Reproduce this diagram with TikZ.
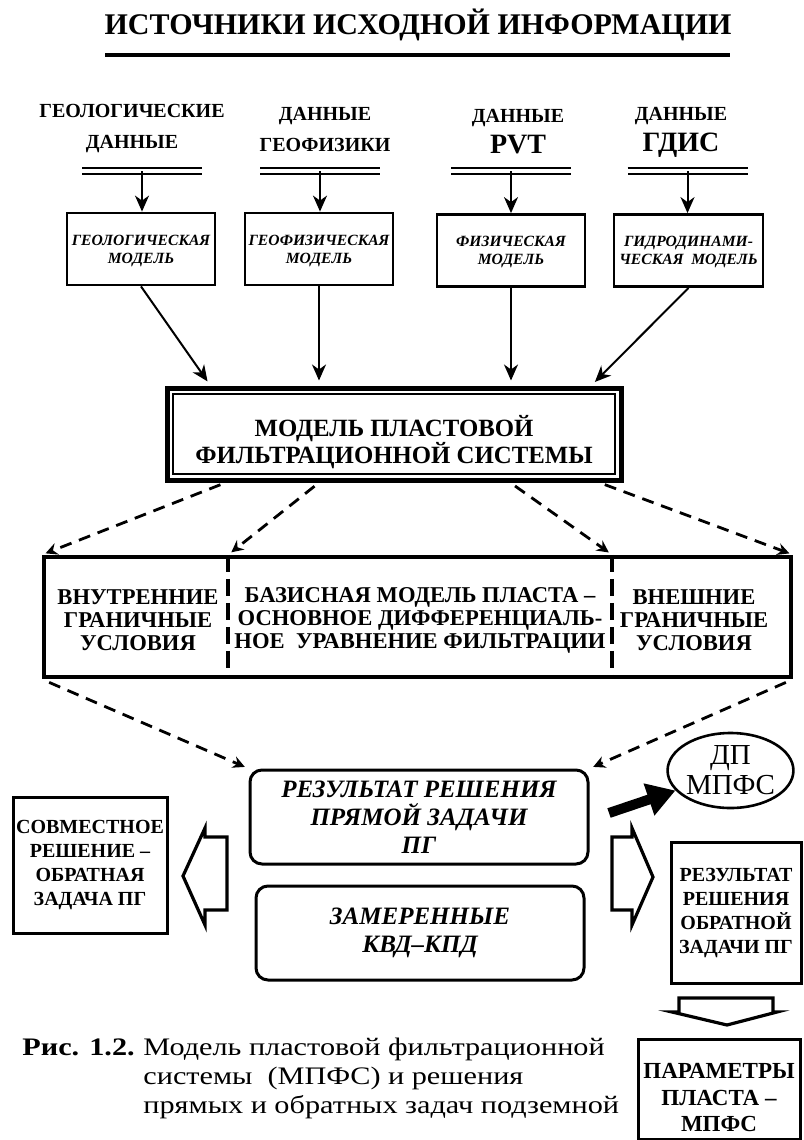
\documentclass[tikz,border=0pt]{standalone}
\usepackage{fontspec}
\setmainfont{Liberation Serif}
\newfontfamily\capfont[FakeStretch=1.2]{Liberation Serif}
\usetikzlibrary{arrows.meta,calc,shapes.geometric}

\tikzset{
  srclabel/.style={font=\bfseries\fontsize{10}{15.5}\selectfont, align=center, inner sep=0pt},
  srcbar/.style={line width=0.8pt, double distance=2.2pt},
  feed/.style={line width=1pt, -{Stealth[length=8pt,width=7pt,inset=2.5pt]}},
  modelbox/.style={draw, line width=1.4pt, minimum width=74pt, minimum height=36pt, inner sep=1pt,
    text depth=-4pt, align=center, font=\bfseries\itshape\fontsize{7.8}{9}\selectfont},
  spread/.style={line width=1.4pt, dash pattern=on 6pt off 4pt, shorten <=3pt, shorten >=2pt,
    -{Stealth[length=6pt,width=6pt,inset=2pt]}},
  bndtext/.style={align=center, inner sep=0pt, font=\bfseries\fontsize{11.3}{11.5}\selectfont},
  resbox/.style={draw, line width=1.5pt, rounded corners=6pt, minimum width=169pt, minimum height=47pt,
    align=center, font=\bfseries\itshape\fontsize{12.5}{14}\selectfont},
  sidebox/.style={draw, line width=1.5pt, inner sep=1pt, align=center, font=\bfseries\fontsize{10}{12}\selectfont},
  blockarrow/.style={line width=1.6pt, line join=miter}
}

\begin{document}
\begin{tikzpicture}[x=0.5pt,y=-0.5pt]
\useasboundingbox (0,0) rectangle (803,1140);

\node[font=\bfseries\fontsize{15}{18}\selectfont] (title) at (418,25) {ИСТОЧНИКИ ИСХОДНОЙ ИНФОРМАЦИИ};
\draw[line width=2pt] (105,55) -- (730,55);

\node[srclabel] (src1) at (132,129) {ГЕОЛОГИЧЕСКИЕ\\ДАННЫЕ};
\node[srclabel] (src2) at (325,129) {ДАННЫЕ\\ГЕОФИЗИКИ};
\node[srclabel] (src3) at (518,132) {ДАННЫЕ\\{\fontsize{14}{15.5}\selectfont PVT}};
\node[srclabel] (src4) at (681,132) {ДАННЫЕ\\{\fontsize{14}{15.5}\selectfont ГДИС}};

\coordinate (bar1) at (142,171);
\coordinate (bar2) at (320,171);
\coordinate (bar3) at (511,171);
\coordinate (bar4) at (687.5,171);
\foreach \b in {bar1,bar2,bar3,bar4}
  \draw[srcbar] ([xshift=-30pt]\b) -- ([xshift=30pt]\b);

\node[modelbox] (geo) at (141,249) {ГЕОЛОГИЧЕСКАЯ\\МОДЕЛЬ};
\node[modelbox] (gph) at (319,249) {ГЕОФИЗИЧЕСКАЯ\\МОДЕЛЬ};
\node[modelbox] (phy) at (511,250.5) {ФИЗИЧЕСКАЯ\\МОДЕЛЬ};
\node[modelbox, minimum width=74.5pt] (hyd) at (688.5,250.5) {ГИДРОДИНАМИ-\\ЧЕСКАЯ\ \ МОДЕЛЬ};

\draw[feed] (bar1) -- (bar1 |- geo.north);
\draw[feed] (bar2) -- (bar2 |- gph.north);
\draw[feed] (bar3) -- (bar3 |- phy.north);
\draw[feed] (bar4) -- (bar4 |- hyd.north);

\node[draw, line width=2.5pt, minimum width=227pt, minimum height=46pt] (mpfs) at (394,434) {};
\draw[line width=0.8pt] ([shift={(4.2pt,-4.2pt)}]mpfs.north west) rectangle ([shift={(-4.2pt,4.2pt)}]mpfs.south east);
\node[align=center, font=\bfseries\fontsize{12.4}{13.5}\selectfont] (mpfstext) at ([yshift=-4pt]mpfs.center)
  {МОДЕЛЬ ПЛАСТОВОЙ\\ФИЛЬТРАЦИОННОЙ СИСТЕМЫ};

\draw[feed, shorten >=2.5pt] (geo.south) -- ($(mpfs.north west)!0.1!(mpfs.north east)$);
\draw[feed, shorten >=2.5pt] (gph.south) -- (gph.south |- mpfs.north);
\draw[feed, shorten >=2.5pt] (phy.south) -- (phy.south |- mpfs.north);
\draw[feed, shorten >=2.5pt] (hyd.south) -- ($(mpfs.north west)!0.93!(mpfs.north east)$);

\node[draw, line width=2.2pt, minimum width=373.5pt, minimum height=60pt] (bnd) at (417.5,617) {};
\coordinate (div1) at ($(bnd.north west)!0.248!(bnd.north east)$);
\coordinate (div2) at ($(bnd.north west)!0.759!(bnd.north east)$);
\draw[line width=2pt, dash pattern=on 8.5pt off 3.5pt] (div1) -- (div1 |- bnd.south);
\draw[line width=2pt, dash pattern=on 8.5pt off 3.5pt] (div2) -- (div2 |- bnd.south);

\node[bndtext] (inner) at (138,620) {ВНУТРЕННИЕ\\ГРАНИЧНЫЕ\\УСЛОВИЯ};
\node[bndtext] (basis) at (420,620) {БАЗИСНАЯ МОДЕЛЬ ПЛАСТА –\\ОСНОВНОЕ ДИФФЕРЕНЦИАЛЬ-\\НОЕ\ \ УРАВНЕНИЕ ФИЛЬТРАЦИИ};
\node[bndtext] (outer) at (694,620) {ВНЕШНИЕ\\ГРАНИЧНЫЕ\\УСЛОВИЯ};

\draw[spread] ($(mpfs.south west)!0.134!(mpfs.south east)$) -- (bnd.north west);
\draw[spread] ($(mpfs.south west)!0.337!(mpfs.south east)$) -- (div1);
\draw[spread] ($(mpfs.south west)!0.753!(mpfs.south east)$) -- (div2);
\draw[spread] ($(mpfs.south west)!0.947!(mpfs.south east)$) -- (bnd.north east);

\node[resbox] (direct) at (419,817) {РЕЗУЛЬТАТ РЕШЕНИЯ\\ПРЯМОЙ ЗАДАЧИ\\ПГ};
\node[resbox, minimum width=164pt] (meas) at (420,933) {ЗАМЕРЕННЫЕ\\КВД–КПД};

\draw[spread, shorten <=4pt] (bnd.south west) -- (direct.north west);
\draw[spread, shorten <=4pt] (bnd.south east) -- (direct.north east);

\node[draw, ellipse, line width=1.3pt, minimum width=61.5pt, minimum height=37.5pt, inner sep=0pt,
  align=center, font=\fontsize{14.5}{15}\selectfont] (dp) at (730.5,770.5) {ДП\\МПФС};
\coordinate (fatstart) at (609,813);
\draw[line width=5pt, -{Triangle[length=14pt,width=16pt]}] (fatstart) -- (dp.200);

\node[sidebox, minimum width=77pt, minimum height=68pt] (joint) at (90,865) {СОВМЕСТНОЕ\\РЕШЕНИЕ –\\ОБРАТНАЯ\\ЗАДАЧА ПГ};
\node[sidebox, minimum width=65pt, minimum height=70.5pt] (inverse) at (736,912.5) {РЕЗУЛЬТАТ\\РЕШЕНИЯ\\ОБРАТНОЙ\\ЗАДАЧИ ПГ};

\draw[blockarrow] (227,837) -- (205,837) -- (205,828) -- (183,876) -- (205,925) -- (205,910) -- (227,910) -- cycle;
\draw[blockarrow] (612,837) -- (632,837) -- (632,828) -- (653,877) -- (632,925) -- (632,910) -- (612,910) -- cycle;
\draw[blockarrow] (679,998) -- (773,998) -- (773,1012) -- (777,1012) -- (727,1025) -- (672,1012) -- (679,1012) -- cycle;

\node[sidebox, minimum width=81pt, minimum height=50pt] (params) at (719,1089) {};
\node[align=center, inner sep=0pt, font=\bfseries\fontsize{11.5}{13.25}\selectfont] (paramstext)
  at ([yshift=-4.5pt]params.center) {ПАРАМЕТРЫ\\ПЛАСТА –\\МПФС};

\node[anchor=base west, inner sep=0pt, font=\capfont\bfseries\fontsize{12.6}{14.5}\selectfont] (fig) at (22,1055) {Рис. 1.2.};
\node[anchor=north west, inner sep=0pt, align=left, font=\capfont\fontsize{12.6}{14.5}\selectfont] (caption) at (143,1038)
  {Модель пластовой фильтрационной\\системы\ \ (МПФС) и решения\\прямых и обратных задач подземной};
\end{tikzpicture}
\end{document}
